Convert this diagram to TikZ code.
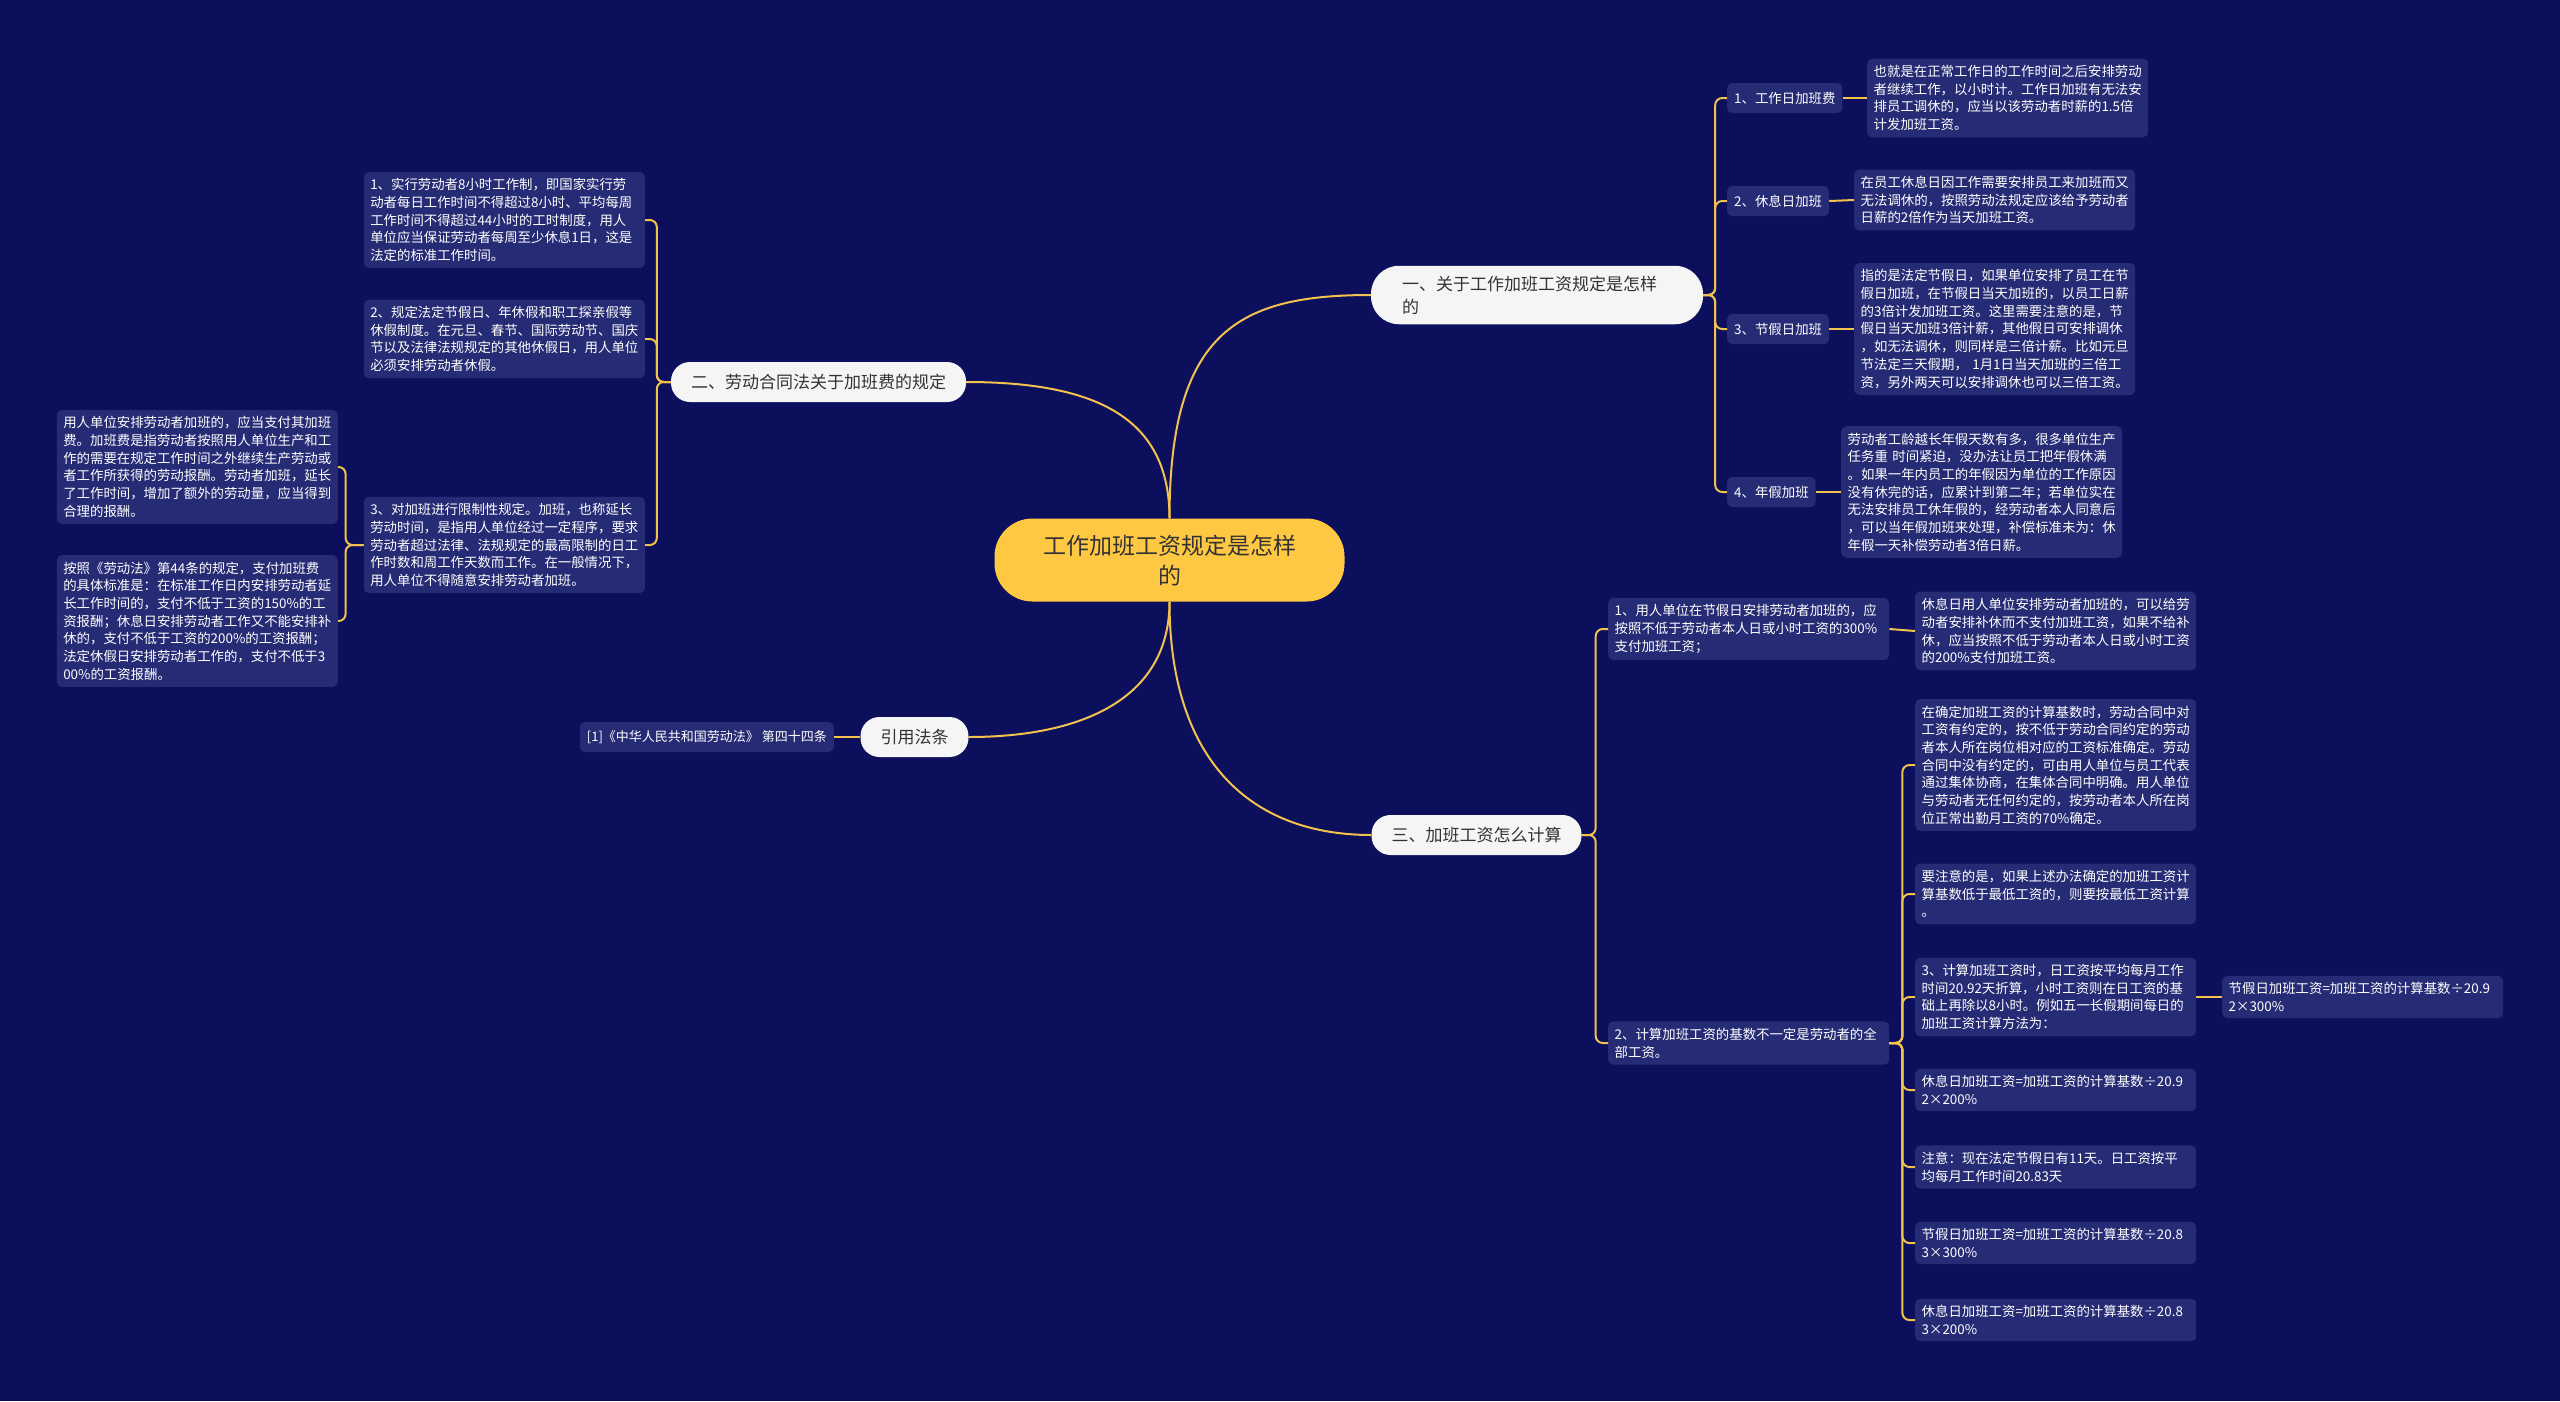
\documentclass[tikz,border=0pt]{standalone}
\usepackage{fontspec}
\setmainfont{Noto Sans CJK SC}
\definecolor{bg}{HTML}{0B0F5C}
\definecolor{leafc}{HTML}{252B74}
\definecolor{linec}{HTML}{F2C14E}
\definecolor{rootc}{HTML}{FFC843}
\definecolor{branchc}{HTML}{F5F5F5}
\definecolor{dark}{HTML}{333333}
\begin{document}
\begin{tikzpicture}[x=1pt,y=-1pt,
 leaf/.style={fill=leafc, rounded corners=5pt, text=white, font=\fontsize{13.4}{17.7}\selectfont, inner xsep=6.5pt, inner ysep=6.5pt, align=left, text width=268pt},
 lab/.style={fill=leafc, rounded corners=5pt, text=white, font=\fontsize{13.4}{17.7}\selectfont, inner xsep=7pt, inner ysep=6pt, minimum height=30pt},
 branch/.style={fill=branchc, text=dark, font=\fontsize{17}{23}\selectfont, rounded corners=19pt, inner xsep=20pt, minimum height=40pt},
 conn/.style={draw=linec, line width=2pt},
 br/.style={conn, rounded corners=7pt}]
\useasboundingbox (0,0) rectangle (2560,1401);
\fill[bg] (0,0) rectangle (2560,1401);

% root
\node[fill=rootc, text=dark, rounded corners=38pt, font=\fontsize{23}{30}\selectfont, align=center, text width=262pt, inner xsep=44pt, minimum height=83pt] (root) at (1169.5,560) {工作加班工资规定是怎样\\的};

% main branches
\node[branch, align=left, text width=270pt, inner xsep=31pt, inner ysep=10pt, rounded corners=28pt] (b1) at (1537,295) {一、关于工作加班工资规定是怎样\\的};
\node[branch] (b2) at (818.5,382) {二、劳动合同法关于加班费的规定};
\node[branch] (b4) at (914.5,737) {引用法条};
\node[branch] (b3) at (1476.5,835) {三、加班工资怎么计算};

\draw[conn] (root.north) .. controls (1169.5,330) and (1240,295) .. (b1.west);
\draw[conn] (root.north) .. controls (1169.5,420) and (1100,382) .. (b2.east);
\draw[conn] (root.south) .. controls (1169.5,700) and (1080,737) .. (b4.east);
\draw[conn] (root.south) .. controls (1169.5,760) and (1250,835) .. (b3.west);

% branch 1
\node[lab, anchor=west] (a1) at (1727,98) {1、工作日加班费};
\node[lab, anchor=west] (a2) at (1727,201) {2、休息日加班};
\node[lab, anchor=west] (a3) at (1727,329) {3、节假日加班};
\node[lab, anchor=west] (a4) at (1727,492) {4、年假加班};
\node[leaf, anchor=west] (a1t) at (1867,98) {也就是在正常工作日的工作时间之后安排劳动\\者继续工作，以小时计。工作日加班有无法安\\排员工调休的，应当以该劳动者时薪的1.5倍\\计发加班工资。};
\node[leaf, anchor=west] (a2t) at (1854,200) {在员工休息日因工作需要安排员工来加班而又\\无法调休的，按照劳动法规定应该给予劳动者\\日薪的2倍作为当天加班工资。};
\node[leaf, anchor=west] (a3t) at (1854,329) {指的是法定节假日，如果单位安排了员工在节\\假日加班，在节假日当天加班的，以员工日薪\\的3倍计发加班工资。这里需要注意的是，节\\假日当天加班3倍计薪，其他假日可安排调休\\，如无法调休，则同样是三倍计薪。比如元旦\\节法定三天假期， 1月1日当天加班的三倍工\\资，另外两天可以安排调休也可以三倍工资。};
\node[leaf, anchor=west] (a4t) at (1841,492) {劳动者工龄越长年假天数有多，很多单位生产\\任务重 时间紧迫，没办法让员工把年假休满\\。如果一年内员工的年假因为单位的工作原因\\没有休完的话，应累计到第二年；若单位实在\\无法安排员工休年假的，经劳动者本人同意后\\，可以当年假加班来处理，补偿标准未为：休\\年假一天补偿劳动者3倍日薪。};
\foreach \c in {a1,a2,a3,a4} {\draw[br] (b1.east) -- ++(12,0) |- (\c.west);}
\foreach \c in {a1,a2,a3,a4} {\draw[conn] (\c.east) -- (\c t.west);}

% branch 2
\node[leaf, anchor=east] (c1) at (645,220) {1、实行劳动者8小时工作制，即国家实行劳\\动者每日工作时间不得超过8小时、平均每周\\工作时间不得超过44小时的工时制度，用人\\单位应当保证劳动者每周至少休息1日，这是\\法定的标准工作时间。};
\node[leaf, anchor=east] (c2) at (645,339) {2、规定法定节假日、年休假和职工探亲假等\\休假制度。在元旦、春节、国际劳动节、国庆\\节以及法律法规规定的其他休假日，用人单位\\必须安排劳动者休假。};
\node[leaf, anchor=east] (c3) at (645,545) {3、对加班进行限制性规定。加班，也称延长\\劳动时间，是指用人单位经过一定程序，要求\\劳动者超过法律、法规规定的最高限制的日工\\作时数和周工作天数而工作。在一般情况下，\\用人单位不得随意安排劳动者加班。};
\node[leaf, anchor=east] (c3a) at (338,467) {用人单位安排劳动者加班的，应当支付其加班\\费。加班费是指劳动者按照用人单位生产和工\\作的需要在规定工作时间之外继续生产劳动或\\者工作所获得的劳动报酬。劳动者加班，延长\\了工作时间，增加了额外的劳动量，应当得到\\合理的报酬。};
\node[leaf, anchor=east] (c3b) at (338,621) {按照《劳动法》第44条的规定，支付加班费\\的具体标准是：在标准工作日内安排劳动者延\\长工作时间的，支付不低于工资的150\%的工\\资报酬；休息日安排劳动者工作又不能安排补\\休的，支付不低于工资的200\%的工资报酬；\\法定休假日安排劳动者工作的，支付不低于3\\00\%的工资报酬。};
\foreach \c in {c1,c2,c3} {\draw[br] (b2.west) -- ++(-14,0) |- (\c.east);}
\foreach \c in {c3a,c3b} {\draw[br] (c3.west) -- ++(-18,0) |- (\c.east);}

% cited law
\node[lab, anchor=east, font=\fontsize{13}{17}\selectfont] (d1) at (834,737) {[1]《中华人民共和国劳动法》 第四十四条};
\draw[conn] (b4.west) -- (d1.east);

% branch 3
\node[leaf, anchor=west] (e1) at (1608,629) {1、用人单位在节假日安排劳动者加班的，应\\按照不低于劳动者本人日或小时工资的300\%\\支付加班工资；};
\node[leaf, anchor=west] (e2) at (1608,1043) {2、计算加班工资的基数不一定是劳动者的全\\部工资。};
\foreach \c in {e1,e2} {\draw[br] (b3.east) -- ++(14,0) |- (\c.west);}
\node[leaf, anchor=west] (e1a) at (1915,631) {休息日用人单位安排劳动者加班的，可以给劳\\动者安排补休而不支付加班工资，如果不给补\\休，应当按照不低于劳动者本人日或小时工资\\的200\%支付加班工资。};
\draw[conn] (e1.east) -- (e1a.west);

\node[leaf, anchor=west] (f1) at (1915,765) {在确定加班工资的计算基数时，劳动合同中对\\工资有约定的，按不低于劳动合同约定的劳动\\者本人所在岗位相对应的工资标准确定。劳动\\合同中没有约定的，可由用人单位与员工代表\\通过集体协商，在集体合同中明确。用人单位\\与劳动者无任何约定的，按劳动者本人所在岗\\位正常出勤月工资的70\%确定。};
\node[leaf, anchor=west] (f2) at (1915,894) {要注意的是，如果上述办法确定的加班工资计\\算基数低于最低工资的，则要按最低工资计算\\。};
\node[leaf, anchor=west] (f3) at (1915,997) {3、计算加班工资时，日工资按平均每月工作\\时间20.92天折算，小时工资则在日工资的基\\础上再除以8小时。例如五一长假期间每日的\\加班工资计算方法为：};
\node[leaf, anchor=west] (f4) at (1915,1090) {休息日加班工资=加班工资的计算基数÷20.9\\2×200\%};
\node[leaf, anchor=west] (f5) at (1915,1167) {注意：现在法定节假日有11天。日工资按平\\均每月工作时间20.83天};
\node[leaf, anchor=west] (f6) at (1915,1243) {节假日加班工资=加班工资的计算基数÷20.8\\3×300\%};
\node[leaf, anchor=west] (f7) at (1915,1320) {休息日加班工资=加班工资的计算基数÷20.8\\3×200\%};
\foreach \c in {f1,f2,f3,f4,f5,f6,f7} {\draw[br] (e2.east) -- ++(13,0) |- (\c.west);}
\node[leaf, anchor=west] (f3a) at (2222,997) {节假日加班工资=加班工资的计算基数÷20.9\\2×300\%};
\draw[conn] (f3.east) -- (f3a.west);
\end{tikzpicture}
\end{document}
